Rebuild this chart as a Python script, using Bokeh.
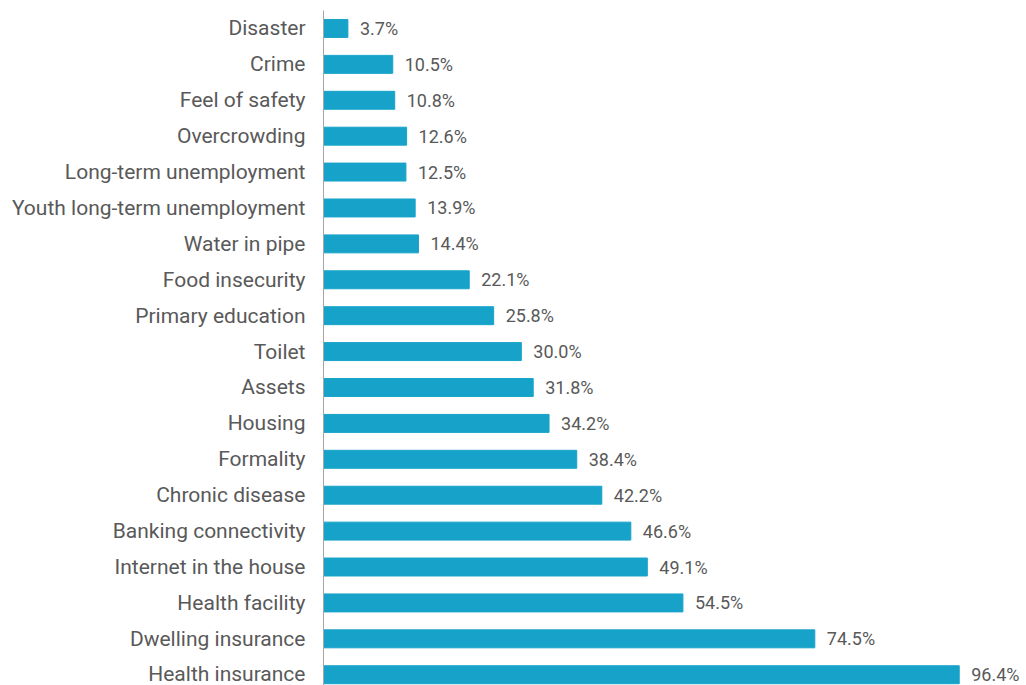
from bokeh.plotting import figure
from bokeh.models import Range1d, ColumnDataSource, FixedTicker
from bokeh.core.properties import value
from bokeh.embed import file_html
from bokeh.resources import INLINE

categories = ["Disaster", "Crime", "Feel of safety", "Overcrowding", "Long-term unemployment",
              "Youth long-term unemployment", "Water in pipe", "Food insecurity", "Primary education",
              "Toilet", "Assets", "Housing", "Formality", "Chronic disease", "Banking connectivity",
              "Internet in the house", "Health facility", "Dwelling insurance", "Health insurance"]
values = [3.7, 10.5, 10.8, 12.6, 12.5, 13.9, 14.4, 22.1, 25.8, 30.0, 31.8, 34.2, 38.4, 42.2,
          46.6, 49.1, 54.5, 74.5, 96.4]

n = len(categories)
ypos = [n - 1 - i for i in range(n)]
labels = [f"{v:.1f}%" for v in values]

src = ColumnDataSource(dict(y=ypos, v=values, lab=labels))

FONT = "Roboto"
TXT = "#595959"

p = figure(width=1026, height=685, output_backend="svg", toolbar_location=None,
           x_range=Range1d(0, 106.6), y_range=Range1d(-0.3, 18.5),
           min_border_left=323, min_border_top=10, min_border_bottom=0, min_border_right=0)
p.outline_line_color = None
p.grid.grid_line_color = None
p.xaxis.visible = False

p.hbar(y="y", right="v", left=0, height=0.5, color="#17a3c9", source=src)
p.text(x="v", y="y", text="lab", source=src, x_offset=12, text_baseline="middle",
       text_font=value(FONT), text_font_size="18px", text_color=TXT)

ax = p.yaxis[0]
ax.ticker = FixedTicker(ticks=ypos)
ax.major_label_overrides = {y: c for y, c in zip(ypos, categories)}
ax.major_tick_line_color = None
ax.minor_tick_line_color = None
ax.axis_line_color = "#a6a6a6"
ax.major_label_standoff = 12
ax.major_label_text_font = FONT
ax.major_label_text_font_size = "21px"
ax.major_label_text_color = TXT

open("out.html", "w").write(file_html(p, INLINE))
